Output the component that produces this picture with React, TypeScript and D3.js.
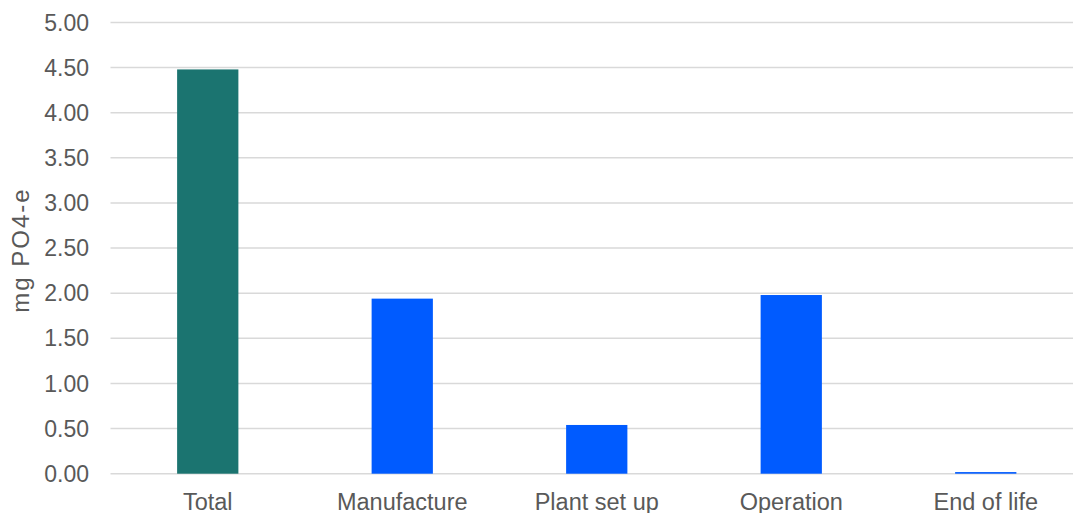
import React from "react";
import * as d3 from "d3";

const categories = ["Total", "Manufacture", "Plant set up", "Operation", "End of life"];
const values = [4.48, 1.94, 0.54, 1.98, 0.018];
const barColors = ["#1B7470", "#005BFF", "#005BFF", "#005BFF", "#005BFF"];
const yTicks = [0, 0.5, 1, 1.5, 2, 2.5, 3, 3.5, 4, 4.5, 5];
const yLabel = "mg PO4-e";

export default function App() {
  const W = 1073, H = 513;
  const x0 = 110.5, x1 = 1083;
  const y0 = 473.7, y1 = 22.5;
  const x = d3.scaleBand<string>().domain(categories).range([x0, x1]).paddingInner(0.685).paddingOuter(0.3425);
  const y = d3.scaleLinear().domain([0, 5]).range([y0, y1]);
  const font = "'Liberation Sans', Arial, sans-serif";
  const textColor = "#595959";
  return (
    <svg width={W} height={H} style={{ position: "absolute", left: 0, top: 0, background: "#fff" }} fontFamily={font}>
      {yTicks.map((t) => (
        <g key={t}>
          <line x1={x0} x2={x1} y1={y(t)} y2={y(t)} stroke="#D9D9D9" strokeWidth={1.5} />
          <text x={89} y={y(t)} dy="0.35em" textAnchor="end" fontSize={23} fill={textColor}>
            {d3.format(".2f")(t)}
          </text>
        </g>
      ))}
      {categories.map((c, i) => (
        <g key={c}>
          <rect
            x={x(c)}
            y={y(values[i])}
            width={x.bandwidth()}
            height={y(0) - y(values[i])}
            fill={barColors[i]}
          />
          <text x={(x(c) as number) + x.bandwidth() / 2} y={509.5} textAnchor="middle" fontSize={23.5} fill={textColor}>
            {c}
          </text>
        </g>
      ))}
      <text
        transform={`translate(29,250) rotate(-90)`}
        textAnchor="middle"
        fontSize={24}
        letterSpacing={2}
        fill={textColor}
      >
        {yLabel}
      </text>
    </svg>
  );
}
